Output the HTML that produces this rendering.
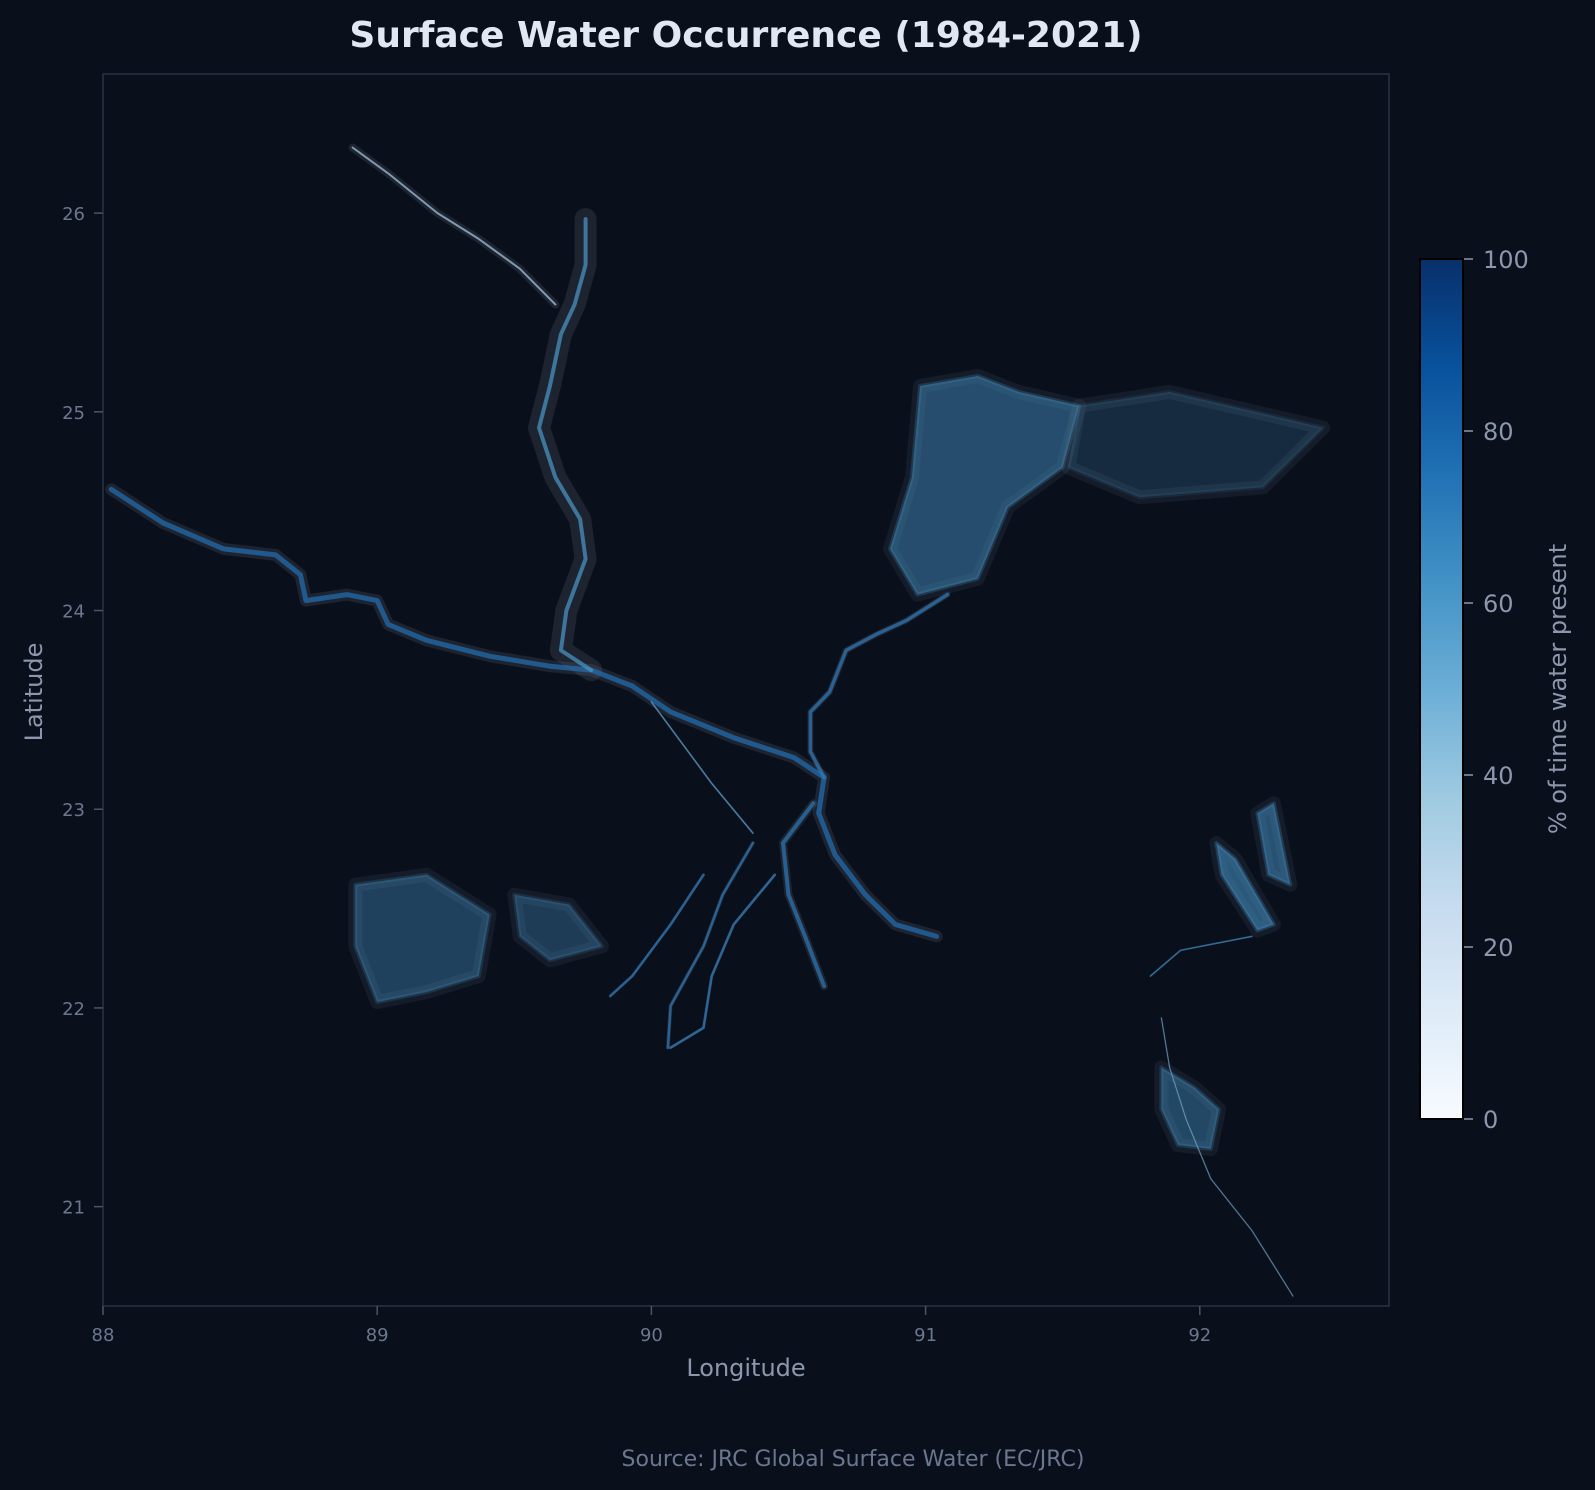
<!DOCTYPE html>
<html><head><meta charset="utf-8"><style>
html,body{margin:0;padding:0;background:#0a0f1c;}
svg{display:block;font-family:"DejaVu Sans","Liberation Sans",sans-serif;}
</style></head><body>
<svg id="c" width="1595" height="1490" viewBox="0 0 1595 1490">
<defs>
<linearGradient id="blues" x1="0" y1="1" x2="0" y2="0">
<stop offset="0" stop-color="#f7fbff"/><stop offset="0.125" stop-color="#deebf7"/><stop offset="0.25" stop-color="#c6dbef"/><stop offset="0.375" stop-color="#9ecae1"/><stop offset="0.5" stop-color="#6baed6"/><stop offset="0.625" stop-color="#4292c6"/><stop offset="0.75" stop-color="#2171b5"/><stop offset="0.875" stop-color="#08519c"/><stop offset="1" stop-color="#08306b"/>
</linearGradient>
<clipPath id="plotclip"><rect x="103" y="74" width="1286" height="1232"/></clipPath>
</defs>
<rect x="0" y="0" width="1595" height="1490" fill="#0a0f1c"/>
<text x="746" y="47" text-anchor="middle" font-size="36" font-weight="bold" fill="#e2e8f2">Surface Water Occurrence (1984-2021)</text>
<g id="map" clip-path="url(#plotclip)"></g>
<rect x="103" y="74" width="1286" height="1232" fill="none" stroke="#2a3345" stroke-width="1.5"/>
<g id="axes"></g>
<text x="746" y="1376" text-anchor="middle" font-size="24" fill="#8c97ad">Longitude</text>
<text transform="translate(42,692) rotate(-90)" text-anchor="middle" font-size="24" fill="#8c97ad">Latitude</text>
<rect x="1420" y="259" width="43" height="860" fill="url(#blues)" stroke="#000" stroke-width="2"/>
<g id="cbar"></g>
<text transform="translate(1566,689) rotate(-90)" text-anchor="middle" font-size="24" fill="#8c97ad">% of time water present</text>
<text x="853" y="1466" text-anchor="middle" font-size="22" fill="#6b778f">Source: JRC Global Surface Water (EC/JRC)</text>
</svg>
<script>
const xTicks=[88,89,90,91,92];
const yTicks=[21,22,23,24,25,26];
const cbarTicks=[0,20,40,60,80,100];
const riverNames=["ganges-padma","jamuna","teesta","meghna","distributary-a","distributary-b","distributary-c","distributary-d","arial-khan","karnaphuli","southeast-coast"];
const riverLons=[
[88.03,88.22,88.44,88.63,88.72,88.74,88.89,89.00,89.04,89.18,89.41,89.63,89.78,89.93,90.07,90.30,90.52,90.63,90.61,90.67,90.78,90.89,91.04],
[89.76,89.76,89.72,89.67,89.63,89.59,89.65,89.74,89.76,89.69,89.67,89.78],
[88.91,89.04,89.22,89.37,89.52,89.65],
[91.08,90.93,90.82,90.71,90.65,90.58,90.58,90.63],
[90.59,90.48,90.50,90.56,90.63],
[90.37,90.26,90.19,90.07,90.06],
[90.19,90.07,89.93,89.85],
[90.45,90.30,90.22,90.19,90.07],
[90.00,90.22,90.37],
[91.82,91.93,92.19],
[91.86,91.89,91.95,92.04,92.19,92.34]];
const riverLats=[
[24.61,24.44,24.31,24.28,24.18,24.05,24.08,24.05,23.93,23.85,23.77,23.72,23.70,23.62,23.49,23.36,23.26,23.16,22.98,22.77,22.57,22.42,22.36],
[25.97,25.74,25.54,25.39,25.13,24.92,24.67,24.46,24.26,24.00,23.80,23.70],
[26.33,26.20,26.00,25.87,25.72,25.54],
[24.08,23.95,23.88,23.80,23.59,23.49,23.29,23.16],
[23.03,22.83,22.57,22.36,22.11],
[22.83,22.57,22.31,22.01,21.80],
[22.67,22.42,22.16,22.06],
[22.67,22.42,22.16,21.90,21.80],
[23.54,23.13,22.88],
[22.16,22.29,22.36],
[21.95,21.70,21.44,21.14,20.88,20.55]];
const riverOccurrence=[75,60,35,70,72,70,70,68,55,65,50];
const riverWidth=[5,4,2,3.5,4,2.5,2.5,2.5,1.5,1.5,1];
const riverHalo=[12,22,8,6,8,4,3,3,2,2,2];
const patchNames=["haor-basin","northeast-wetlands","southwest-aquaculture-1","southwest-aquaculture-2","southeast-lake-1","southeast-lake-2","coxs-bazar-wetland"];
const patchLons=[
[90.98,91.19,91.34,91.56,91.50,91.30,91.19,90.97,90.87,90.95],
[91.56,91.89,92.45,92.23,91.78,91.52],
[88.92,89.18,89.41,89.37,89.18,89.00,88.92],
[89.50,89.70,89.82,89.63,89.52],
[92.06,92.13,92.27,92.21,92.08],
[92.21,92.27,92.33,92.25],
[91.86,91.98,92.07,92.04,91.92,91.86]];
const patchLats=[
[25.13,25.18,25.10,25.03,24.72,24.52,24.16,24.08,24.31,24.67],
[25.03,25.10,24.92,24.62,24.57,24.72],
[22.62,22.67,22.47,22.16,22.08,22.03,22.31],
[22.57,22.52,22.31,22.24,22.36],
[22.83,22.75,22.42,22.39,22.67],
[22.98,23.03,22.62,22.67],
[21.70,21.60,21.49,21.29,21.31,21.49]];
const patchOccurrence=[55,25,45,40,65,60,50];

const X0=103,X1=1389,Y0=74,Y1=1306,LON0=88,LON1=92.69,LAT0=20.5,LAT1=26.70;
const xs=v=>X0+(v-LON0)/(LON1-LON0)*(X1-X0);
const ys=v=>Y1-(v-LAT0)/(LAT1-LAT0)*(Y1-Y0);
const stops=[[247,251,255],[222,235,247],[198,219,239],[158,202,225],[107,174,214],[66,146,198],[33,113,181],[8,81,156],[8,48,107]];
function blues(p){const t=Math.max(0,Math.min(1,p/100))*8;const i=Math.min(7,Math.floor(t));const f=t-i;const a=stops[i],b=stops[i+1];return 'rgb('+a.map((v,k)=>Math.round(v+(b[k]-v)*f)).join(',')+')';}
const NS='http://www.w3.org/2000/svg';
function mk(tag,attrs,parent){const e=document.createElementNS(NS,tag);for(const k in attrs)e.setAttribute(k,attrs[k]);parent.appendChild(e);return e;}
const map=document.getElementById('map');
patchNames.forEach((n,i)=>{
  const pts=patchLons[i].map((lo,j)=>xs(lo).toFixed(1)+','+ys(patchLats[i][j]).toFixed(1)).join(' ');
  const op=patchOccurrence[i]/110;
  const halo=mk('polygon',{points:pts,fill:'none',stroke:'rgba(110,120,140,0.12)','stroke-width':14,'stroke-linejoin':'round'},map);
  
  
  const p=mk('polygon',{points:pts,fill:'rgb(66,140,190)','fill-opacity':op,stroke:'rgb(66,140,190)','stroke-opacity':op*0.5,'stroke-width':4,'stroke-linejoin':'round'},map);
  
  
});
riverNames.forEach((n,i)=>{
  const d='M'+riverLons[i].map((lo,j)=>xs(lo).toFixed(1)+','+ys(riverLats[i][j]).toFixed(1)).join(' L');
  const h=mk('path',{d:d,fill:'none',stroke:'rgba(120,128,145,0.18)','stroke-width':riverHalo[i],'stroke-linejoin':'round','stroke-linecap':'round'},map);
  
  
});
riverNames.forEach((n,i)=>{
  const d='M'+riverLons[i].map((lo,j)=>xs(lo).toFixed(1)+','+ys(riverLats[i][j]).toFixed(1)).join(' L');
  const r=mk('path',{d:d,fill:'none',stroke:blues(riverOccurrence[i]),'stroke-opacity':0.7,'stroke-width':riverWidth[i],'stroke-linejoin':'round','stroke-linecap':'round'},map);
  
  
});
const axes=document.getElementById('axes');
xTicks.forEach(v=>{
  const x=xs(v);
  const t=mk('line',{x1:x,x2:x,y1:Y1,y2:Y1+9,stroke:'#4a5468','stroke-width':1.5},axes);
  
  
  const l=mk('text',{x:x,y:Y1+35,'text-anchor':'middle','font-size':18,fill:'#6b778f'},axes);
  l.textContent=v;
  
  
});
yTicks.forEach(v=>{
  const y=ys(v);
  const t=mk('line',{x1:X0-9,x2:X0,y1:y,y2:y,stroke:'#4a5468','stroke-width':1.5},axes);
  
  
  const l=mk('text',{x:X0-18,y:y+7,'text-anchor':'end','font-size':18,fill:'#6b778f'},axes);
  l.textContent=v;
  
  
});
const cb=document.getElementById('cbar');
cbarTicks.forEach(v=>{
  const y=1119-v/100*860;
  const t=mk('line',{x1:1464,x2:1473,y1:y,y2:y,stroke:'#8c97ad','stroke-width':1.5},cb);
  
  
  const l=mk('text',{x:1483,y:y+9,'font-size':24,fill:'#8c97ad'},cb);
  l.textContent=v;
  
  
});
</script>
</body></html>
